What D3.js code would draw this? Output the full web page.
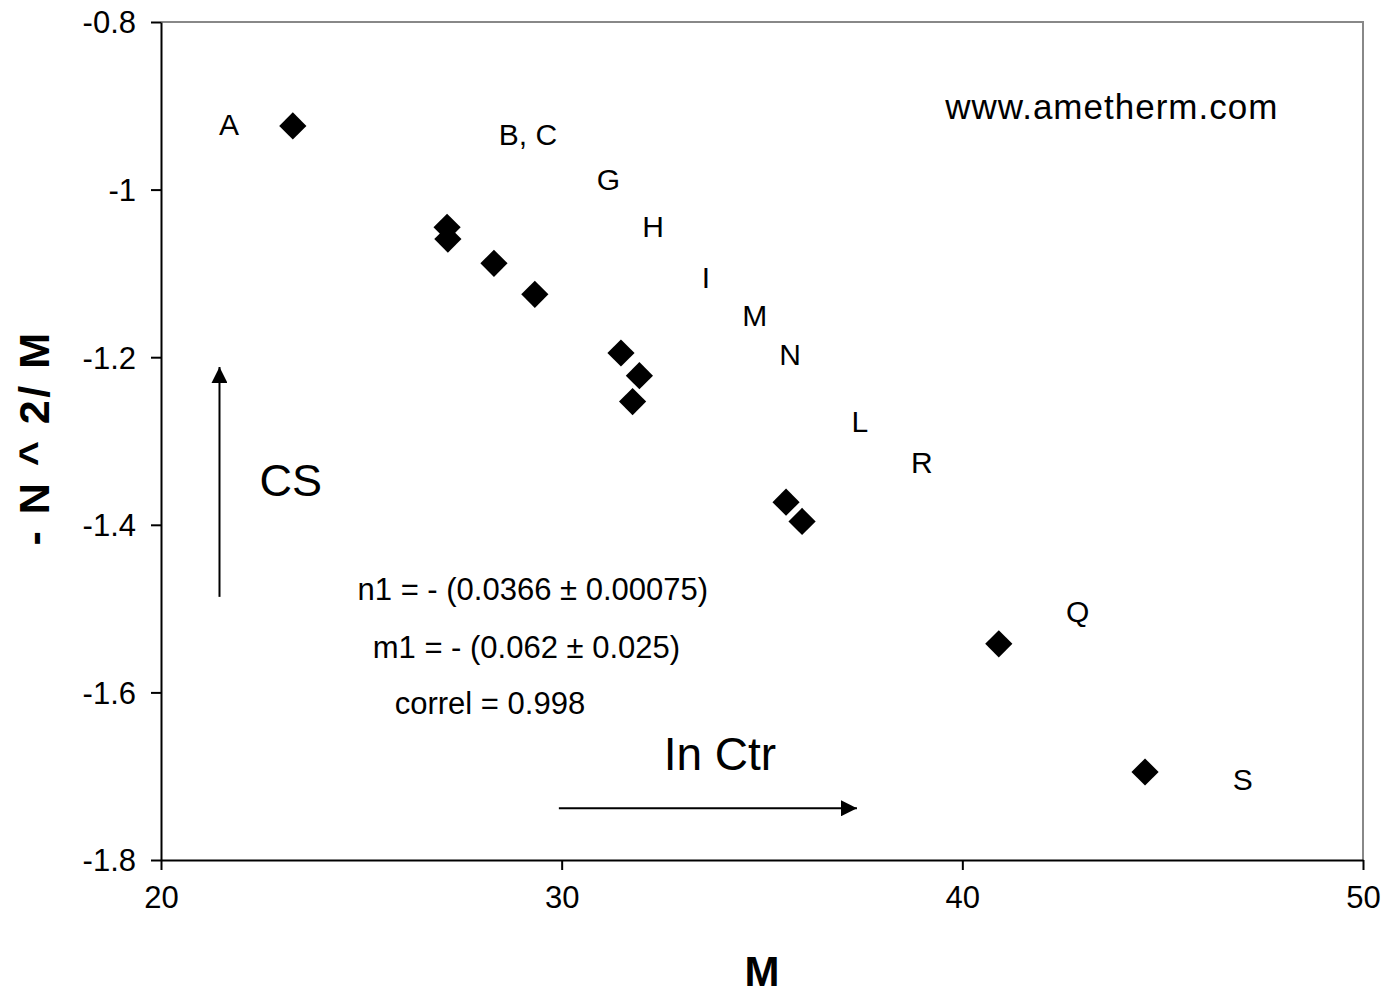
<!DOCTYPE html>
<html>
<head>
<meta charset="utf-8">
<script src="https://cdn.jsdelivr.net/npm/d3@7"></script>
<style>
  body { margin: 0; background: #fff; }
  svg { font-family: "Liberation Sans", Arial, sans-serif; }
</style>
</head>
<body>
<div id="chart"></div>
<script>
// points (M, -N^2/M)
var mValues = [23.29, 27.14, 27.16, 28.31, 29.33, 31.48, 31.94, 31.77, 35.60, 36.00, 40.91, 44.56];
var yValues = [-0.924, -1.045, -1.059, -1.088, -1.125, -1.195, -1.222, -1.253, -1.373, -1.396, -1.542, -1.695];

// letter labels, placed as in the original
var labelText = ["A", "B, C", "G", "H", "I", "M", "N", "L", "R", "Q", "S"];
var labelX = [21.70, 29.16, 31.17, 32.28, 33.60, 34.82, 35.70, 37.44, 38.99, 42.88, 47.00];
var labelY = [-0.922, -0.934, -0.987, -1.044, -1.104, -1.150, -1.197, -1.276, -1.325, -1.503, -1.703];

var xTicks = [20, 30, 40, 50];
var yTicks = [-0.8, -1, -1.2, -1.4, -1.6, -1.8];

var fitLines = ["n1 = - (0.0366 \u00b1 0.00075)", "m1 = - (0.062 \u00b1 0.025)", "correl = 0.998"];
var fitX = [29.28, 29.12, 28.21];
var fitY = [-1.490, -1.559, -1.626];

var width = 1386, height = 994;
var margin = {top: 22, right: 23, bottom: 134, left: 161};

var svg = d3.select("#chart").append("svg")
    .attr("width", width)
    .attr("height", height);

var x = d3.scaleLinear().domain([20, 50]).range([margin.left, width - margin.right]);
var y = d3.scaleLinear().domain([-1.8, -0.8]).range([height - margin.bottom, margin.top]);

// grey frame top and right
svg.append("path")
    .attr("d", "M" + x(20) + "," + y(-0.8) + "H" + x(50) + "V" + y(-1.8))
    .attr("fill", "none")
    .attr("stroke", "#888")
    .attr("stroke-width", 2);

var xAxis = svg.append("g")
    .attr("transform", "translate(0," + y(-1.8) + ")")
    .call(d3.axisBottom(x).tickValues(xTicks).tickSizeInner(10).tickSizeOuter(0).tickPadding(14));

var yAxis = svg.append("g")
    .attr("transform", "translate(" + x(20) + ",0)")
    .call(d3.axisLeft(y).tickValues(yTicks).tickSizeInner(10).tickSizeOuter(0).tickPadding(15)
        .tickFormat(function (d) { return String(d); }));

[xAxis, yAxis].forEach(function (g) {
    g.select(".domain").attr("stroke", "#000").attr("stroke-width", 2);
    g.selectAll(".tick line").attr("stroke", "#000").attr("stroke-width", 2);
    g.selectAll(".tick text").attr("fill", "#000").style("font-size", "31px")
        .style("font-family", "'Liberation Sans', Arial, sans-serif");
});
yAxis.selectAll(".tick text").attr("dy", "0.35em");
xAxis.selectAll(".tick text").attr("dy", "0.78em");

// axis titles
svg.append("text")
    .attr("x", (x(20) + x(50)) / 2)
    .attr("y", 986)
    .attr("text-anchor", "middle")
    .style("font-size", "42px")
    .style("font-weight", "bold")
    .text("M");

svg.append("text")
    .attr("transform", "translate(49,438) rotate(-90)")
    .attr("text-anchor", "middle")
    .style("font-size", "43px")
    .style("font-weight", "bold")
    .style("letter-spacing", "2.5px")
    .text("- N ^ 2/ M");

// markers
svg.selectAll("path.pt")
    .data(mValues)
    .enter()
    .append("path")
    .attr("class", "pt")
    .attr("d", d3.symbol().type(d3.symbolSquare).size(370))
    .attr("transform", (d, i) => "translate(" + x(d) + "," + y(yValues[i]) + ") rotate(45)")
    .attr("fill", "#000");

// letters
svg.selectAll("text.lbl")
    .data(labelText)
    .enter()
    .append("text")
    .attr("class", "lbl")
    .attr("x", (d, i) => x(labelX[i]))
    .attr("y", (d, i) => y(labelY[i]))
    .attr("dy", "0.36em")
    .attr("text-anchor", "middle")
    .style("font-size", "30px")
    .text(d => d);

// fit results
svg.selectAll("text.fit")
    .data(fitLines)
    .enter()
    .append("text")
    .attr("class", "fit")
    .attr("x", (d, i) => x(fitX[i]))
    .attr("y", (d, i) => y(fitY[i]))
    .attr("text-anchor", "middle")
    .style("font-size", "31px")
    .text(d => d);

svg.append("text")
    .attr("x", x(43.73)).attr("y", y(-0.9158))
    .attr("text-anchor", "middle")
    .style("font-size", "35px")
    .style("letter-spacing", "1px")
    .text("www.ametherm.com");

svg.append("text")
    .attr("x", x(23.24)).attr("y", y(-1.3656))
    .attr("text-anchor", "middle")
    .style("font-size", "45px")
    .text("CS");

svg.append("text")
    .attr("x", x(33.95)).attr("y", y(-1.6926))
    .attr("text-anchor", "middle")
    .style("font-size", "46px")
    .text("In Ctr");

// arrows
var defs = svg.append("defs");
defs.append("marker")
    .attr("id", "arr")
    .attr("viewBox", "0 0 10 10")
    .attr("refX", 10).attr("refY", 5)
    .attr("markerWidth", 16).attr("markerHeight", 16)
    .attr("markerUnits", "userSpaceOnUse")
    .attr("orient", "auto")
    .append("path")
    .attr("d", "M0,0L10,5L0,10Z")
    .attr("fill", "#000");

svg.append("line")
    .attr("x1", x(21.46)).attr("y1", y(-1.486))
    .attr("x2", x(21.46)).attr("y2", y(-1.2117))
    .attr("stroke", "#000").attr("stroke-width", 2)
    .attr("marker-end", "url(#arr)");

svg.append("line")
    .attr("x1", x(29.93)).attr("y1", y(-1.7383))
    .attr("x2", x(37.37)).attr("y2", y(-1.7383))
    .attr("stroke", "#000").attr("stroke-width", 2)
    .attr("marker-end", "url(#arr)");
</script>
</body>
</html>
